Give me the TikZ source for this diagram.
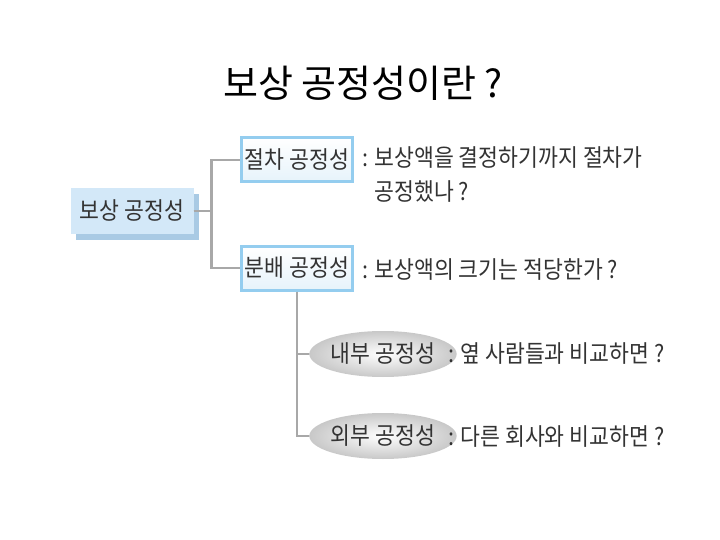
\documentclass[tikz,border=0pt]{standalone}
\usepackage{fontspec}
\setmainfont{Noto Sans CJK KR}[FakeStretch=0.9]
\newfontfamily\titlefont{Noto Sans CJK KR}
\usetikzlibrary{positioning,shapes.geometric,shadows}

\definecolor{rootface}{HTML}{D3E8F8}
\definecolor{rootside}{HTML}{A9CAE4}
\definecolor{boxedge}{HTML}{94CDEF}
\definecolor{boxfill}{HTML}{E6F3FB}
\definecolor{ovalgray}{HTML}{C8C8C8}
\definecolor{linkgray}{HTML}{A8A8A8}
\definecolor{textgray}{HTML}{333333}

\begin{document}
\begin{tikzpicture}[x=1pt,y=-1pt,
  every node/.style={font=\fontsize{24}{34}\selectfont,text=textgray},
  rootbox/.style={rectangle,fill=rootface,minimum width=123pt,minimum height=46pt,inner sep=0pt,
    general shadow={fill=rootside,shadow xshift=5pt,shadow yshift=-6pt}},
  kindbox/.style={rectangle,draw=boxedge,line width=3pt,top color=white,bottom color=boxfill,
    minimum width=111pt,minimum height=44pt,inner sep=0pt},
  kindoval/.style={ellipse,inner color=white,outer color=ovalgray,minimum width=123pt,
    minimum height=46pt,inner sep=0pt},
  desc/.style={anchor=west,align=left,inner sep=0pt},
  link/.style={draw=linkgray,line width=2.5pt}]
\useasboundingbox (0,0) rectangle (720,540);
\node[text=black,font=\titlefont\fontsize{38}{44}\selectfont] (title) at (363,83) {보상 공정성이란 ?};
% main box and the two kinds
\node[rootbox] (root) at (132,211) {보상 공정성};
\node[kindbox] (proc) at (297,160) {절차 공정성};
\node[kindbox] (dist) at (297,268) {분배 공정성};
\node[desc] (procdesc) at (362,175) {: 보상액을 결정하기까지 절차가\\\phantom{: }공정했나 ?};
\node[desc] (distdesc) at (362,270) {: 보상액의 크기는 적당한가 ?};
% sub kinds of distribution
\node[kindoval] (inner) at (383,354) {내부 공정성};
\node[kindoval] (outer) at (383,436) {외부 공정성};
\node[desc] (innerdesc) at (448,354) {: 옆 사람들과 비교하면 ?};
\node[desc] (outerdesc) at (448,437) {: 다른 회사와 비교하면 ?};
\draw[link] (root.east) -- ++(18,0) |- (proc.west);
\draw[link] (root.east) -- ++(18,0) |- (dist.west);
\draw[link] (dist.south) |- (inner.west);
\draw[link] (dist.south) |- (outer.west);
\end{tikzpicture}
\end{document}
